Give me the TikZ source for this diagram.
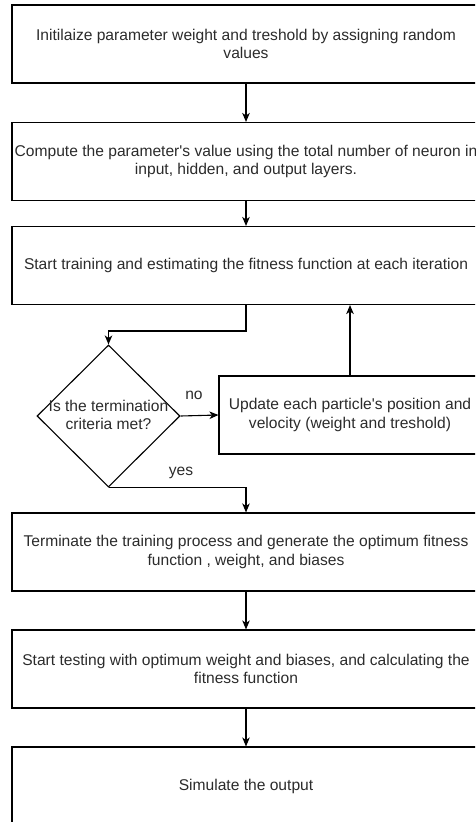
\documentclass[tikz,border=0pt]{standalone}
\usepackage{fontspec}
\setmainfont{Liberation Sans}
\usetikzlibrary{shapes.geometric,arrows.meta}
\definecolor{txtgray}{HTML}{2B2B2B}
\begin{document}
\begin{tikzpicture}[x=1pt,y=-1pt,
  font=\fontsize{15.6}{18.5}\selectfont,
  stepbox/.style={rectangle, draw, line width=1.1pt, minimum width=468pt, minimum height=78pt, align=center, text=txtgray, inner sep=0pt},
  decbox/.style={diamond, draw, line width=1.1pt, minimum width=143pt, minimum height=142pt, inner sep=0pt},
  lbl/.style={text=txtgray, align=center, inner sep=0pt},
  arr/.style={draw, line width=1.1pt, -{Stealth[length=9pt,width=7.5pt,inset=2.5pt]}}]
\useasboundingbox (0,0) rectangle (475,822);
\clip (0,0) rectangle (475,822);
\node[stepbox] (st0) at (246,44){Initilaize parameter weight and treshold by assigning random\\values};
\node[stepbox] (st1) at (246,161.5){Compute the parameter\textquotesingle s value using the total number of neuron in\\input, hidden, and output layers.};
\node[stepbox] (st2) at (246,265.5){Start training and estimating the fitness function at each iteration};
\node[decbox] (dec) at (108.5,416){};
\node[lbl] (dectxt) at (108.5,415){Is the termination\\criteria met?};
\node[stepbox, minimum width=262pt] (upd) at (350,415){Update each particle\textquotesingle s position and\\velocity (weight and treshold)};
\node[stepbox] (st3) at (246,552){Terminate the training process and generate the optimum fitness\\function , weight, and biases};
\node[stepbox] (st4) at (246,669){Start testing with optimum weight and biases, and calculating the\\fitness function};
\node[stepbox] (st5) at (246,786){Simulate the output};
\node[lbl] (no) at (194,395){no};
\node[lbl] (yes) at (181,473){yes};
\draw[arr](st0) -- (st1);
\draw[arr](st1) -- (st2);
\draw[arr](st2.south) -- (246,331) -| (dec.north);
\draw[arr](dec.east) -- (upd.west);
\draw[arr](upd.north) -- (upd.north |- st2.south);
\draw[arr](dec.south) -| (st3.north);
\draw[arr](st3) -- (st4);
\draw[arr](st4) -- (st5);

\end{tikzpicture}
\end{document}
